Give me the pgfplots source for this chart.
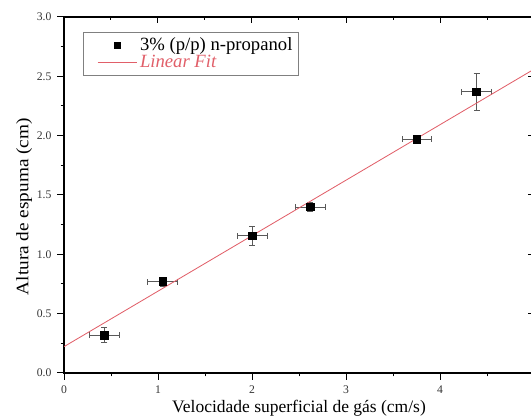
\documentclass[border=0pt]{standalone}
\usepackage{pgfplots}
\pgfplotsset{compat=1.18}
\usepackage{fontspec}
\setmainfont{Liberation Serif}
\definecolor{fitred}{RGB}{225,95,105}
\begin{document}
\begin{tikzpicture}[x=1pt,y=1pt]
\clip (-38.4,-27.6) rectangle (280.2,223.8);
% mirrored ticks (top/right, pointing inward)
\begin{axis}[
  at={(0,0)}, anchor=south west,
  scale only axis, width=282pt, height=213.6pt,
  xmin=0, xmax=5, ymin=0, ymax=3,
  axis line style={line width=0.8pt},
  xtick pos=right, ytick pos=right,
  xtick={0,1,2,3,4,5}, minor xtick={0.5,1.5,2.5,3.5,4.5},
  ytick={0,0.5,1,1.5,2,2.5,3}, minor ytick={0.25,0.75,1.25,1.75,2.25,2.75},
  xticklabels={}, yticklabels={},
  tick align=inside,
  major tick length=3.6pt, minor tick length=2pt,
  tick style={black, line width=0.6pt},
]
\end{axis}
\begin{axis}[
  at={(0,0)}, anchor=south west,
  scale only axis, width=282pt, height=213.6pt,
  xmin=0, xmax=5, ymin=0, ymax=3,
  xtick pos=left, ytick pos=left,
  xtick={0,1,2,3,4,5}, minor xtick={0.5,1.5,2.5,3.5,4.5},
  ytick={0,0.5,1,1.5,2,2.5,3}, minor ytick={0.25,0.75,1.25,1.75,2.25,2.75},
  yticklabel style={/pgf/number format/.cd, fixed, fixed zerofill, precision=1},
  /pgf/number format/assume math mode=true,
  tick align=outside,
  major tick length=4pt, minor tick length=2pt,
  tick style={black, line width=0.6pt},
  axis line style={line width=0.8pt},
  ticklabel style={font=\fontsize{7}{8}\selectfont, text=black!80},
  xlabel={Velocidade superficial de gás (cm/s)},
  ylabel={\scalebox{1.1}[1]{Altura de espuma (cm)}},
  xlabel style={font=\fontsize{10.5}{12}\selectfont, yshift=3pt},
  ylabel style={font=\fontsize{10.5}{12}\selectfont, yshift=-4pt, xshift=-7pt},
  legend style={at={(0.040,0.958)}, anchor=north west, draw=gray, line width=0.5pt,
    font=\fontsize{11.2}{12}\selectfont, row sep=-2.5pt, inner xsep=1.8pt, inner ysep=1pt,
    nodes={inner xsep=1.8pt}},
  legend cell align=left,
]
\addplot[only marks, mark=square*, mark size=2.3pt, black, forget plot,
  error bars/.cd, x dir=both, x explicit, y dir=both, y explicit,
  error bar style={line width=0.4pt, gray!70!black},
  error mark options={rotate=90, mark size=1.8pt, line width=0.4pt, gray!70!black}]
coordinates {
  (0.43,0.32) +- (0.16,0.065)
  (1.05,0.77) +- (0.16,0.04)
  (2.00,1.157) +- (0.16,0.08)
  (2.62,1.40) +- (0.16,0.04)
  (3.755,1.97) +- (0.155,0.02)
  (4.39,2.37) +- (0.16,0.157)
};
\addlegendimage{legend image code/.code={\path (0pt,0pt) (30pt,0pt); \draw[black, mark=square*, mark size=1.7pt] plot coordinates {(18.3pt,0pt)};}}
\addlegendentry{3\% (p/p) n-propanol}
\addplot[fitred, line width=0.5pt, forget plot] coordinates {(0,0.222) (5,2.56)};
\addlegendimage{legend image code/.code={\path (0pt,0pt); \draw[fitred, line width=0.5pt] (6.6pt,0pt) -- (30pt,0pt);}}
\addlegendentry{\textcolor{fitred}{\textit{Linear Fit}}}
\end{axis}
\end{tikzpicture}
\end{document}
